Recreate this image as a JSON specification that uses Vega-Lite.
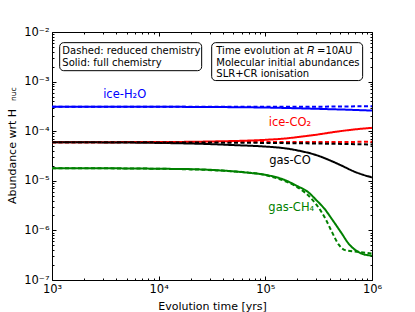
{
  "$schema": "https://vega.github.io/schema/vega-lite/v6.json",
  "width": 320,
  "height": 248,
  "autosize": "none",
  "padding": {"left": 52, "top": 32, "right": 43, "bottom": 32},
  "background": "white",
  "config": {
    "font": "DejaVu Sans",
    "view": {"stroke": "black", "strokeWidth": 1},
    "axis": {"grid": false, "domainColor": "black", "tickColor": "black", "labelColor": "black", "titleColor": "black", "labelFont": "DejaVu Sans", "titleFont": "DejaVu Sans", "labelFontSize": 11.5, "titleFontSize": 11, "titleFontWeight": "normal", "labelOverlap": false, "labelFlush": false}
  },
  "datasets": {
    "curves": [
      {"t": 1000, "ab": 3.1e-4, "sp": "ice-H2O", "chem": "reduced"},
      {"t": 100000, "ab": 3.1e-4, "sp": "ice-H2O", "chem": "reduced"},
      {"t": 300000, "ab": 3.12e-4, "sp": "ice-H2O", "chem": "reduced"},
      {"t": 1000000, "ab": 3.2e-4, "sp": "ice-H2O", "chem": "reduced"},
      {"t": 1000, "ab": 3.1e-4, "sp": "ice-H2O", "chem": "full"},
      {"t": 10000, "ab": 3.1e-4, "sp": "ice-H2O", "chem": "full"},
      {"t": 50000, "ab": 3.05e-4, "sp": "ice-H2O", "chem": "full"},
      {"t": 100000, "ab": 3.0e-4, "sp": "ice-H2O", "chem": "full"},
      {"t": 200000, "ab": 2.9e-4, "sp": "ice-H2O", "chem": "full"},
      {"t": 400000, "ab": 2.78e-4, "sp": "ice-H2O", "chem": "full"},
      {"t": 700000, "ab": 2.68e-4, "sp": "ice-H2O", "chem": "full"},
      {"t": 1000000, "ab": 2.6e-4, "sp": "ice-H2O", "chem": "full"},
      {"t": 1000, "ab": 6.0e-5, "sp": "ice-CO2", "chem": "full"},
      {"t": 10000, "ab": 6.05e-5, "sp": "ice-CO2", "chem": "full"},
      {"t": 30000, "ab": 6.2e-5, "sp": "ice-CO2", "chem": "full"},
      {"t": 100000, "ab": 6.7e-5, "sp": "ice-CO2", "chem": "full"},
      {"t": 150000, "ab": 7.1e-5, "sp": "ice-CO2", "chem": "full"},
      {"t": 200000, "ab": 7.6e-5, "sp": "ice-CO2", "chem": "full"},
      {"t": 300000, "ab": 8.5e-5, "sp": "ice-CO2", "chem": "full"},
      {"t": 500000, "ab": 1.0e-4, "sp": "ice-CO2", "chem": "full"},
      {"t": 700000, "ab": 1.09e-4, "sp": "ice-CO2", "chem": "full"},
      {"t": 1000000, "ab": 1.17e-4, "sp": "ice-CO2", "chem": "full"},
      {"t": 1000, "ab": 6.0e-5, "sp": "gas-CO", "chem": "full"},
      {"t": 3000, "ab": 5.95e-5, "sp": "gas-CO", "chem": "full"},
      {"t": 10000, "ab": 5.8e-5, "sp": "gas-CO", "chem": "full"},
      {"t": 30000, "ab": 5.5e-5, "sp": "gas-CO", "chem": "full"},
      {"t": 50000, "ab": 5.25e-5, "sp": "gas-CO", "chem": "full"},
      {"t": 100000, "ab": 4.9e-5, "sp": "gas-CO", "chem": "full"},
      {"t": 150000, "ab": 4.55e-5, "sp": "gas-CO", "chem": "full"},
      {"t": 200000, "ab": 4.1e-5, "sp": "gas-CO", "chem": "full"},
      {"t": 300000, "ab": 3.3e-5, "sp": "gas-CO", "chem": "full"},
      {"t": 400000, "ab": 2.6e-5, "sp": "gas-CO", "chem": "full"},
      {"t": 500000, "ab": 2.1e-5, "sp": "gas-CO", "chem": "full"},
      {"t": 700000, "ab": 1.5e-5, "sp": "gas-CO", "chem": "full"},
      {"t": 1000000, "ab": 1.17e-5, "sp": "gas-CO", "chem": "full"},
      {"t": 1000, "ab": 6.0e-5, "sp": "ice-CO2", "chem": "reduced"},
      {"t": 100000, "ab": 6.05e-5, "sp": "ice-CO2", "chem": "reduced"},
      {"t": 1000000, "ab": 6.1e-5, "sp": "ice-CO2", "chem": "reduced"},
      {"t": 1000, "ab": 6.0e-5, "sp": "gas-CO", "chem": "reduced"},
      {"t": 10000, "ab": 5.95e-5, "sp": "gas-CO", "chem": "reduced"},
      {"t": 100000, "ab": 5.8e-5, "sp": "gas-CO", "chem": "reduced"},
      {"t": 300000, "ab": 5.65e-5, "sp": "gas-CO", "chem": "reduced"},
      {"t": 1000000, "ab": 5.4e-5, "sp": "gas-CO", "chem": "reduced"},
      {"t": 1000, "ab": 1.8e-5, "sp": "gas-CH4", "chem": "full"},
      {"t": 3000, "ab": 1.79e-5, "sp": "gas-CH4", "chem": "full"},
      {"t": 10000, "ab": 1.75e-5, "sp": "gas-CH4", "chem": "full"},
      {"t": 24000, "ab": 1.7e-5, "sp": "gas-CH4", "chem": "full"},
      {"t": 50000, "ab": 1.55e-5, "sp": "gas-CH4", "chem": "full"},
      {"t": 70000, "ab": 1.45e-5, "sp": "gas-CH4", "chem": "full"},
      {"t": 100000, "ab": 1.32e-5, "sp": "gas-CH4", "chem": "full"},
      {"t": 150000, "ab": 1.05e-5, "sp": "gas-CH4", "chem": "full"},
      {"t": 200000, "ab": 7.8e-6, "sp": "gas-CH4", "chem": "full"},
      {"t": 250000, "ab": 6.0e-6, "sp": "gas-CH4", "chem": "full"},
      {"t": 300000, "ab": 4.1e-6, "sp": "gas-CH4", "chem": "full"},
      {"t": 360000, "ab": 2.7e-6, "sp": "gas-CH4", "chem": "full"},
      {"t": 420000, "ab": 1.7e-6, "sp": "gas-CH4", "chem": "full"},
      {"t": 520000, "ab": 8.7e-7, "sp": "gas-CH4", "chem": "full"},
      {"t": 600000, "ab": 5.5e-7, "sp": "gas-CH4", "chem": "full"},
      {"t": 700000, "ab": 4.0e-7, "sp": "gas-CH4", "chem": "full"},
      {"t": 800000, "ab": 3.4e-7, "sp": "gas-CH4", "chem": "full"},
      {"t": 1000000, "ab": 3.1e-7, "sp": "gas-CH4", "chem": "full"},
      {"t": 1000, "ab": 1.8e-5, "sp": "gas-CH4", "chem": "reduced"},
      {"t": 10000, "ab": 1.75e-5, "sp": "gas-CH4", "chem": "reduced"},
      {"t": 50000, "ab": 1.55e-5, "sp": "gas-CH4", "chem": "reduced"},
      {"t": 100000, "ab": 1.3e-5, "sp": "gas-CH4", "chem": "reduced"},
      {"t": 150000, "ab": 1.0e-5, "sp": "gas-CH4", "chem": "reduced"},
      {"t": 200000, "ab": 7.4e-6, "sp": "gas-CH4", "chem": "reduced"},
      {"t": 240000, "ab": 5.6e-6, "sp": "gas-CH4", "chem": "reduced"},
      {"t": 295000, "ab": 3.5e-6, "sp": "gas-CH4", "chem": "reduced"},
      {"t": 330000, "ab": 2.5e-6, "sp": "gas-CH4", "chem": "reduced"},
      {"t": 367000, "ab": 1.7e-6, "sp": "gas-CH4", "chem": "reduced"},
      {"t": 420000, "ab": 9.4e-7, "sp": "gas-CH4", "chem": "reduced"},
      {"t": 490000, "ab": 5.1e-7, "sp": "gas-CH4", "chem": "reduced"},
      {"t": 560000, "ab": 4.0e-7, "sp": "gas-CH4", "chem": "reduced"},
      {"t": 750000, "ab": 3.7e-7, "sp": "gas-CH4", "chem": "reduced"},
      {"t": 1000000, "ab": 3.4e-7, "sp": "gas-CH4", "chem": "reduced"}
    ],
    "labels": [
      {"t": 4800, "ab": 5.4e-4, "sp": "ice-H2O", "text": "ice-H₂O"},
      {"t": 170000, "ab": 1.48e-4, "sp": "ice-CO2", "text": "ice-CO₂"},
      {"t": 170000, "ab": 2.5e-5, "sp": "gas-CO", "text": "gas-CO"},
      {"t": 175000, "ab": 2.8e-6, "sp": "gas-CH4", "text": "gas-CH₄"}
    ],
    "boxes": [
      {"t1": 1180, "t2": 25300, "a1": 6.1e-3, "a2": 1.66e-3},
      {"t1": 31400, "t2": 817000, "a1": 6.1e-3, "a2": 1.05e-3}
    ],
    "notes": [
      {"t": 1251, "ab": 4.07e-3, "text": "Dashed: reduced chemistry"},
      {"t": 1251, "ab": 2.41e-3, "text": "Solid: full chemistry"},
      {"t": 34700, "ab": 4.07e-3, "text": "Time evolution at 𝑅 =10AU"},
      {"t": 34700, "ab": 2.41e-3, "text": "Molecular initial abundances"},
      {"t": 34700, "ab": 1.45e-3, "text": "SLR+CR ionisation"}
    ]
  },
  "resolve": {"axis": {"x": "independent", "y": "independent"}},
  "layer": [
    {
      "data": {"name": "boxes"},
      "mark": {"type": "rect", "fill": "white", "stroke": "black", "strokeWidth": 1, "cornerRadius": 4},
      "encoding": {
        "x": {"field": "t1", "type": "quantitative", "scale": {"type": "log", "domain": [1000, 1000000], "nice": false},
          "axis": {"orient": "top", "labels": false, "title": null, "domain": false,
            "values": [1000,2000,3000,4000,5000,6000,7000,8000,9000,10000,20000,30000,40000,50000,60000,70000,80000,90000,100000,200000,300000,400000,500000,600000,700000,800000,900000,1000000],
            "tickSize": {"condition": {"test": "abs(log(datum.value)/LN10 - round(log(datum.value)/LN10)) < 0.01", "value": -4}, "value": -2}}},
        "x2": {"field": "t2"},
        "y": {"field": "a1", "type": "quantitative", "scale": {"type": "log", "domain": [1e-7, 1e-2], "nice": false},
          "axis": {"orient": "right", "labels": false, "title": null, "domain": false,
            "values": [1e-7,2e-7,3e-7,4e-7,5e-7,6e-7,7e-7,8e-7,9e-7,1e-6,2e-6,3e-6,4e-6,5e-6,6e-6,7e-6,8e-6,9e-6,1e-5,2e-5,3e-5,4e-5,5e-5,6e-5,7e-5,8e-5,9e-5,1e-4,2e-4,3e-4,4e-4,5e-4,6e-4,7e-4,8e-4,9e-4,1e-3,2e-3,3e-3,4e-3,5e-3,6e-3,7e-3,8e-3,9e-3,1e-2],
            "tickSize": {"condition": {"test": "abs(log(datum.value)/LN10 - round(log(datum.value)/LN10)) < 0.01", "value": -4}, "value": -2}}},
        "y2": {"field": "a2"}
      }
    },
    {
      "data": {"name": "curves"},
      "mark": {"type": "line", "strokeWidth": 2, "interpolate": "monotone"},
      "encoding": {
        "x": {"field": "t", "type": "quantitative", "scale": {"type": "log", "domain": [1000, 1000000], "nice": false},
          "axis": {"orient": "bottom", "title": "Evolution time [yrs]", "domain": false, "titlePadding": 4, "labelPadding": 7,
            "values": [1000,2000,3000,4000,5000,6000,7000,8000,9000,10000,20000,30000,40000,50000,60000,70000,80000,90000,100000,200000,300000,400000,500000,600000,700000,800000,900000,1000000],
            "labelExpr": "abs(log(datum.value)/LN10 - round(log(datum.value)/LN10)) < 0.01 ? '10' + substring('⁰¹²³⁴⁵⁶⁷⁸⁹', round(log(datum.value)/LN10), round(log(datum.value)/LN10) + 1) : ''",
            "tickSize": {"condition": {"test": "abs(log(datum.value)/LN10 - round(log(datum.value)/LN10)) < 0.01", "value": -4}, "value": -2}}},
        "y": {"field": "ab", "type": "quantitative", "scale": {"type": "log", "domain": [1e-7, 1e-2], "nice": false},
          "axis": {"orient": "left", "title": "Abundance wrt H", "domain": false, "titlePadding": 6, "labelPadding": 7,
            "values": [1e-7,2e-7,3e-7,4e-7,5e-7,6e-7,7e-7,8e-7,9e-7,1e-6,2e-6,3e-6,4e-6,5e-6,6e-6,7e-6,8e-6,9e-6,1e-5,2e-5,3e-5,4e-5,5e-5,6e-5,7e-5,8e-5,9e-5,1e-4,2e-4,3e-4,4e-4,5e-4,6e-4,7e-4,8e-4,9e-4,1e-3,2e-3,3e-3,4e-3,5e-3,6e-3,7e-3,8e-3,9e-3,1e-2],
            "labelExpr": "abs(log(datum.value)/LN10 - round(log(datum.value)/LN10)) < 0.01 ? '10⁻' + substring('⁰¹²³⁴⁵⁶⁷⁸⁹', -round(log(datum.value)/LN10), -round(log(datum.value)/LN10) + 1) : ''",
            "tickSize": {"condition": {"test": "abs(log(datum.value)/LN10 - round(log(datum.value)/LN10)) < 0.01", "value": -4}, "value": -2}}},
        "color": {"field": "sp", "type": "nominal", "legend": null,
          "scale": {"domain": ["ice-H2O", "ice-CO2", "gas-CO", "gas-CH4"], "range": ["#0000ff", "#ff0000", "#000000", "#008000"]}},
        "strokeDash": {"field": "chem", "type": "nominal", "legend": null,
          "scale": {"domain": ["full", "reduced"], "range": [[1, 0], [4, 2.5]]}}
      }
    },
    {
      "data": {"name": "labels"},
      "mark": {"type": "text", "fontSize": 11.5, "font": "DejaVu Sans", "align": "center", "baseline": "middle"},
      "encoding": {
        "x": {"field": "t", "type": "quantitative", "axis": null},
        "y": {"field": "ab", "type": "quantitative", "axis": null},
        "text": {"field": "text"},
        "color": {"field": "sp", "type": "nominal", "legend": null}
      }
    },
    {
      "data": {"name": "notes"},
      "mark": {"type": "text", "fontSize": 10, "font": "DejaVu Sans", "align": "left", "baseline": "middle", "color": "black"},
      "encoding": {
        "x": {"field": "t", "type": "quantitative", "axis": null},
        "y": {"field": "ab", "type": "quantitative", "axis": null},
        "text": {"field": "text"}
      }
    },
    {
      "data": {"values": [{"t": 440, "ab": 5.6e-4, "text": "nuc"}]},
      "mark": {"type": "text", "fontSize": 7.5, "font": "DejaVu Sans", "align": "center", "baseline": "middle", "color": "black", "angle": 270, "clip": false},
      "encoding": {
        "x": {"field": "t", "type": "quantitative", "axis": null},
        "y": {"field": "ab", "type": "quantitative", "axis": null},
        "text": {"field": "text"}
      }
    }
  ]
}
